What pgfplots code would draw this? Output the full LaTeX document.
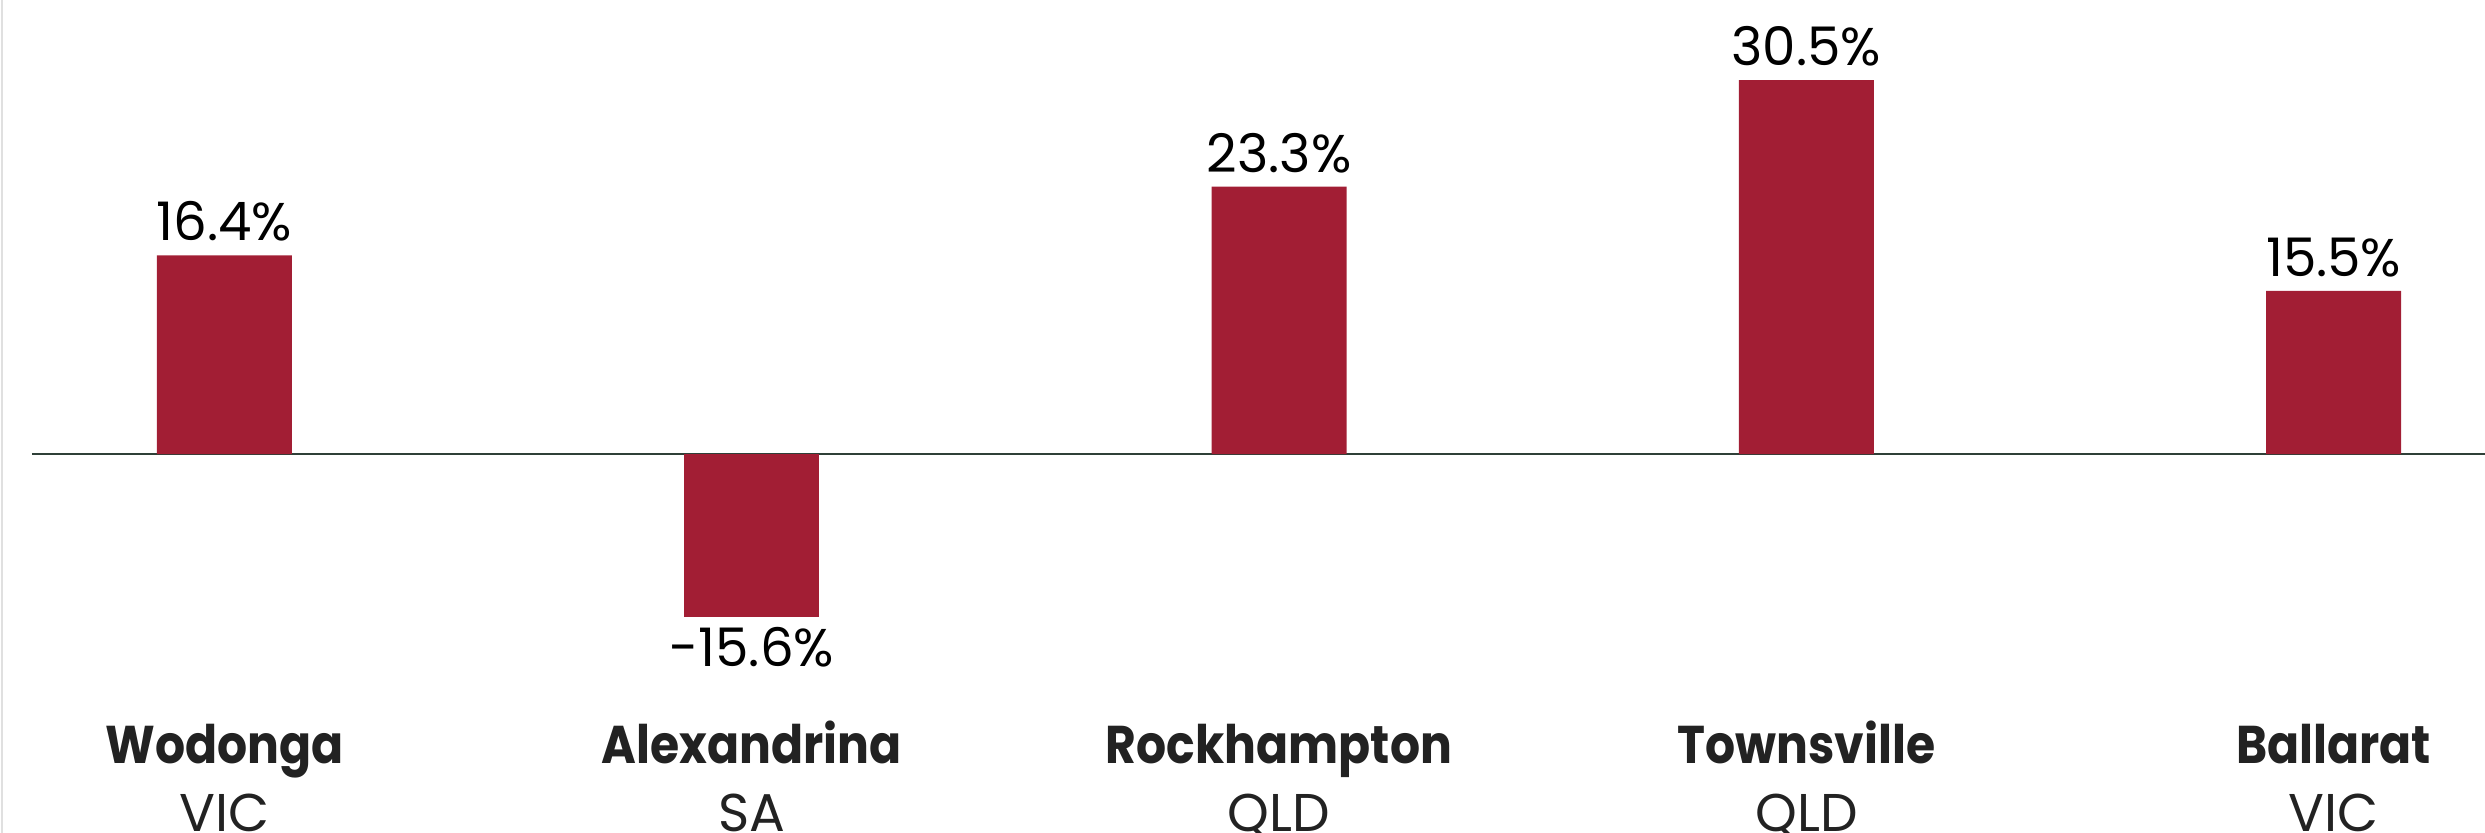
\documentclass[border=0pt]{standalone}
\usepackage{fontspec}
\setmainfont{Poppins}
\newfontfamily\labfont{Poppins}[FakeStretch=0.89]
\usepackage{pgfplots}
\pgfplotsset{compat=1.18}
\definecolor{barred}{RGB}{162,30,52}
\definecolor{zeroline}{RGB}{47,64,56}
\definecolor{labtext}{RGB}{34,34,34}
\begin{document}
\begin{tikzpicture}
\begin{axis}[
  scale only axis,
  width=735.9bp, height=217.2bp,
  xmin=-0.365, xmax=4.287,
  ymin=-22.02, ymax=37.03,
  axis line style={draw=none},
  ytick=\empty,
  xtick={0,1,2,3,4},
  major tick length=0pt,
  xticklabels={{{\labfont\bfseries Wodonga}\\VIC},{{\labfont\bfseries Alexandrina}\\SA},{{\labfont\bfseries Rockhampton}\\QLD},{{\labfont\bfseries Townsville}\\QLD},{{\labfont\bfseries Ballarat}\\VIC}},
  xticklabel style={align=center, inner sep=0pt, anchor=base, yshift=-32.1bp, text=labtext, font=\fontsize{16}{20.3}\selectfont},
  extra y ticks={0},
  extra y tick labels={},
  extra y tick style={grid=major, major grid style={zeroline, line width=0.5bp}},
  ybar, bar width=40.5bp, bar shift=0pt,
  nodes near coords,
  point meta=explicit symbolic,
  every node near coord/.append style={font=\fontsize{16}{19}\selectfont, text=black, inner sep=0pt},
  clip=false,
]
\addplot[fill=barred, draw=none, every node near coord/.append style={anchor=south, yshift=4bp}] coordinates {
  (0,16.2) [16.4\%]
  (2,21.8) [23.3\%]
  (3,30.5) [30.5\%]
  (4,13.3) [15.5\%]
};
\addplot[fill=barred, draw=none, every node near coord/.append style={anchor=north, yshift=-3bp}] coordinates {
  (1,-13.3) [-15.6\%]
};
\end{axis}
\draw[black!12, line width=0.6bp] ([xshift=-9bp]current axis.north west) -- ([xshift=-9bp,yshift=-32.7bp]current axis.south west);
\pgfresetboundingbox
\path ([xshift=-9.6bp]current axis.north west) rectangle ([yshift=-32.7bp]current axis.south east);
\end{tikzpicture}
\end{document}
